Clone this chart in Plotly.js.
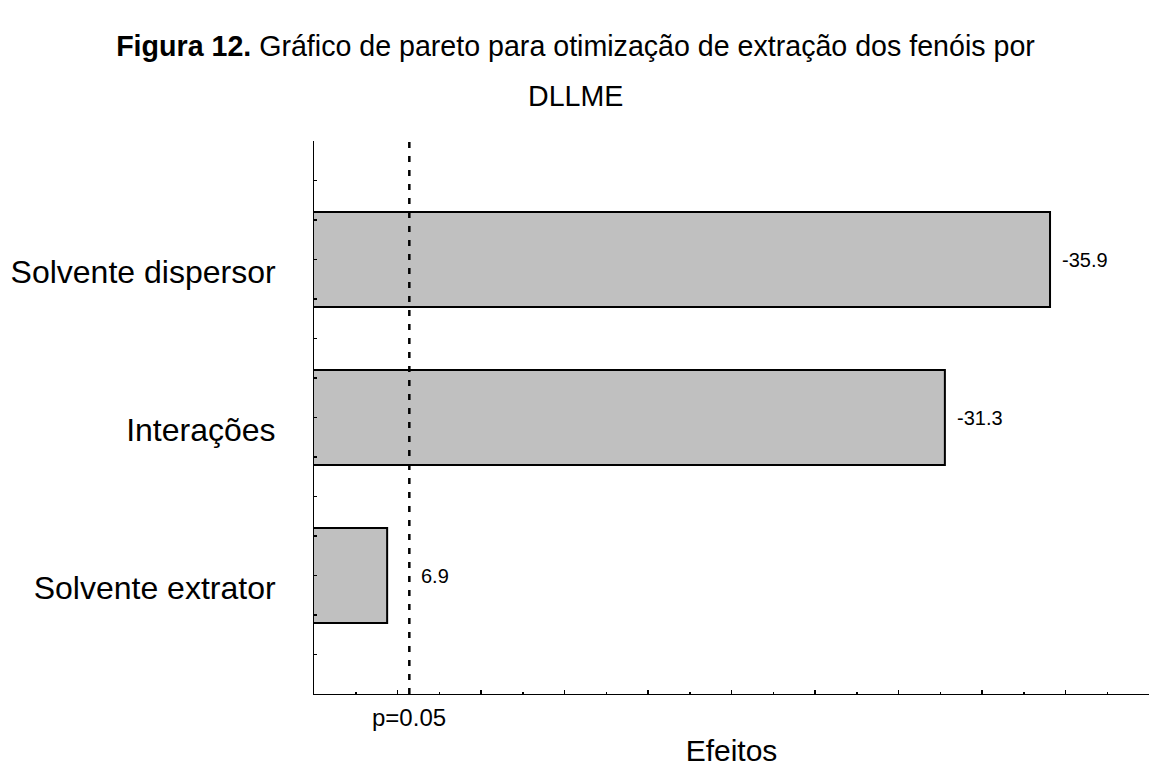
<!DOCTYPE html>
<html>
<head>
<meta charset="utf-8">
<script src="https://cdn.plot.ly/plotly-3.0.1.min.js"></script>
<style>
  html, body { margin: 0; padding: 0; background: #fff; }
  #chart { width: 1151px; height: 767px; }
</style>
</head>
<body>
<div id="chart"></div>
<script>
// Pareto chart of standardized effects (DLLME phenol extraction)
const categories = ["Solvente extrator", "Interações", "Solvente dispersor"];
const effects = [6.9, -31.3, -35.9];
const effectLabels = ["6.9", "-31.3", "-35.9"];
const pCritical = 7.87;          // p = 0.05 reference line
const pLabel = "p=0.05";

const FONT = "Liberation Sans, Arial, Helvetica, sans-serif";

const yPos = categories.map((c, i) => i);
const barLen = effects.map(v => Math.abs(v));

// y ticks every quarter step, labelled only at category centres
const yTickVals = [];
const yTickText = [];
for (let k = -2; k <= 4 * (categories.length - 1) + 2; k++) {
  const v = k / 4;
  yTickVals.push(v);
  yTickText.push(Number.isInteger(v) && categories[v] !== undefined ? categories[v] : "");
}

const trace = {
  type: "bar",
  orientation: "h",
  x: barLen,
  y: yPos,
  width: 0.6,
  marker: { color: "#c0c0c0", line: { color: "#000", width: 2 } },
  hoverinfo: "skip"
};

// value labels sit right of the bar end or the p-line, whichever is further
const valueAnnotations = barLen.map((v, i) => ({
  x: Math.max(v, pCritical),
  y: yPos[i],
  xref: "x", yref: "y",
  text: effectLabels[i],
  showarrow: false,
  xanchor: "left", yanchor: "middle",
  xshift: 10,
  font: { family: FONT, size: 20, color: "#000" }
}));

const plotL = 314, plotR = 2, plotT = 141, plotB = 73;
const plotW = 1151 - plotL - plotR, plotH = 767 - plotT - plotB;

const layout = {
  width: 1151,
  height: 767,
  margin: { l: plotL, r: plotR, t: plotT, b: plotB },
  paper_bgcolor: "#fff",
  plot_bgcolor: "#fff",
  showlegend: false,
  bargap: 0,
  title: {
    text: "<b>Figura 12.</b> Gráfico de pareto para otimização de extração dos fenóis por",
    x: 0.5, xref: "container", xanchor: "center",
    y: 1 - 46 / 767, yref: "container", yanchor: "middle",
    font: { family: FONT, size: 28.6, color: "#000" }
  },
  xaxis: {
    range: [3.7, 40.23],
    showgrid: false,
    zeroline: false,
    showline: true,
    linecolor: "#000",
    linewidth: 1,
    ticks: "inside",
    tick0: 3.7,
    dtick: 3.653,
    ticklen: 4,
    tickwidth: 1.5,
    tickcolor: "#000",
    minor: { dtick: 1.8265, tick0: 3.7, ticks: "inside", ticklen: 2, tickwidth: 1.5, tickcolor: "#000", showgrid: false },
    showticklabels: false,
    title: {
      text: "Efeitos",
      standoff: 48,
      font: { family: FONT, size: 30, color: "#000" }
    }
  },
  yaxis: {
    range: [-0.75, 2.75],
    showgrid: false,
    zeroline: false,
    showline: true,
    linecolor: "#000",
    linewidth: 1,
    ticks: "inside",
    ticklen: 3,
    tickwidth: 1.5,
    tickcolor: "#000",
    tickmode: "array",
    tickvals: yTickVals,
    ticktext: yTickText,
    ticklabelstandoff: 31,
    ticklabelshift: 12,
    tickfont: { family: FONT, size: 32, color: "#000" }
  },
  shapes: [{
    type: "line",
    xref: "x", yref: "paper",
    x0: pCritical, x1: pCritical, y0: 0, y1: 1,
    line: { color: "#000", width: 2.5, dash: "6px,8px" }
  }],
  annotations: valueAnnotations.concat([
    {
      x: pCritical, y: 0, xref: "x", yref: "paper",
      text: pLabel, showarrow: false,
      xanchor: "center", yanchor: "middle",
      yshift: -23,
      font: { family: FONT, size: 24, color: "#000" }
    },
    {
      // second title line, centred on the page
      x: (1151 / 2 - plotL) / plotW, y: (767 - plotB - 96) / plotH,
      xref: "paper", yref: "paper",
      text: "DLLME", showarrow: false,
      xanchor: "center", yanchor: "middle",
      font: { family: FONT, size: 28.6, color: "#000" }
    }
  ])
};

Plotly.newPlot("chart", [trace], layout, { staticPlot: true, displayModeBar: false });
</script>
</body>
</html>
